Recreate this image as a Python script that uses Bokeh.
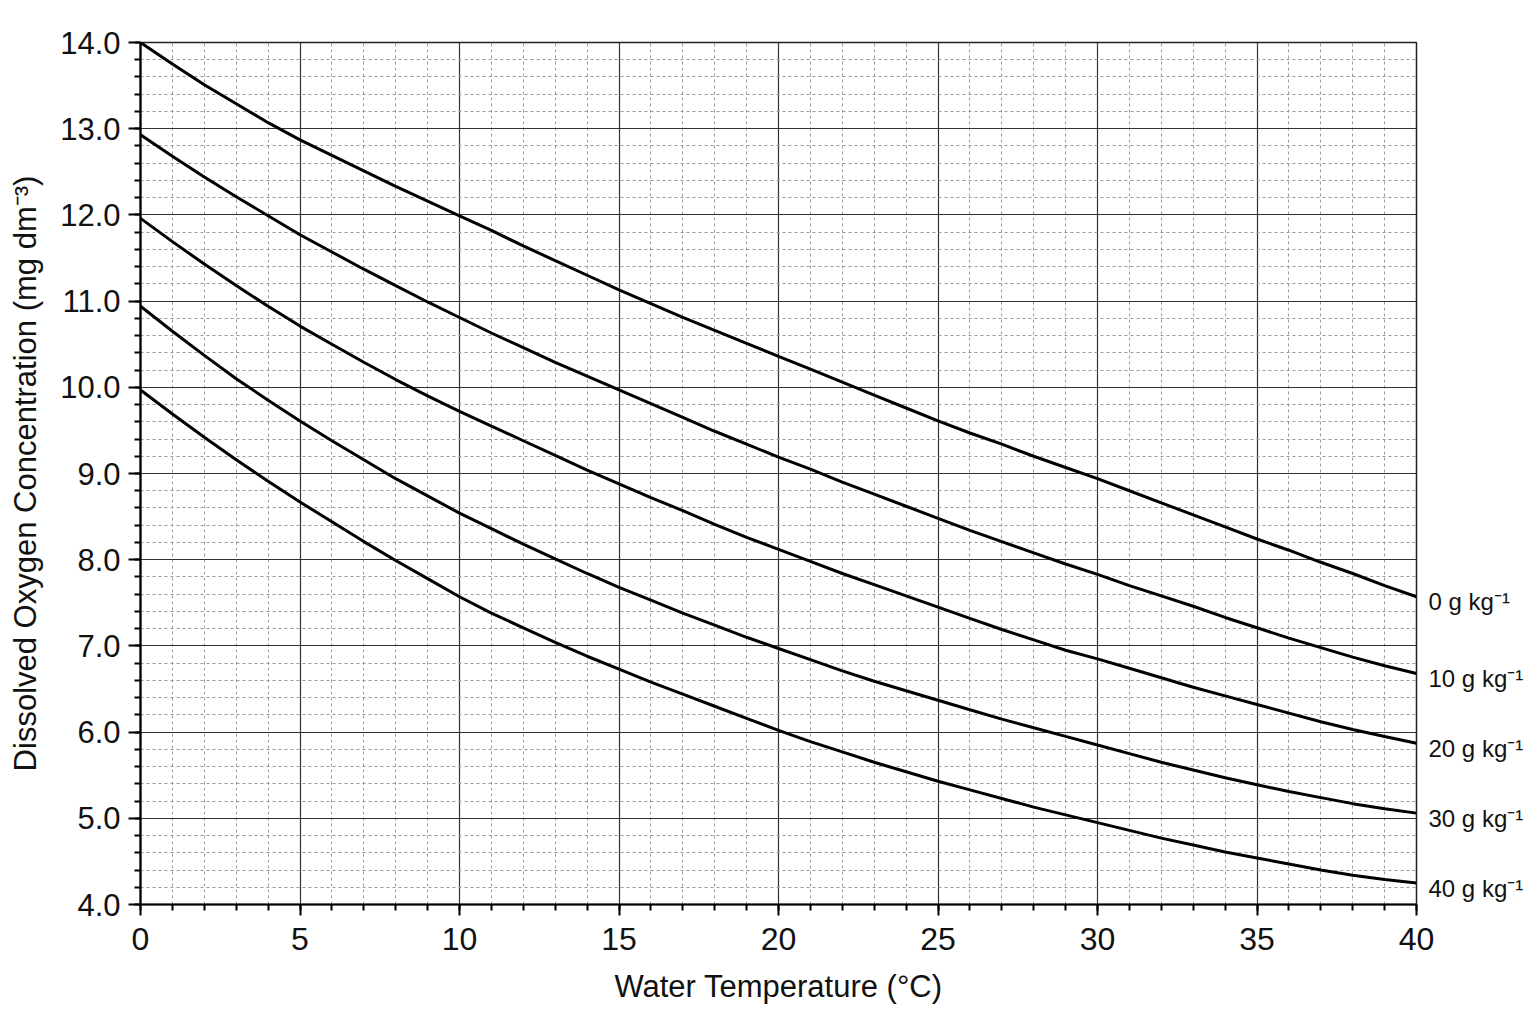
from bokeh.plotting import figure
from bokeh.models import Range1d, SingleIntervalTicker, NumeralTickFormatter, FixedTicker, LinearAxis
from bokeh.embed import file_html
from bokeh.resources import INLINE

temperature = list(range(0, 41))

salinity_labels = ["0 g kg⁻¹", "10 g kg⁻¹", "20 g kg⁻¹", "30 g kg⁻¹", "40 g kg⁻¹"]

do_0 = [14.00, 13.75, 13.51, 13.29, 13.07, 12.87, 12.69, 12.51, 12.33, 12.16,
        11.99, 11.82, 11.64, 11.47, 11.30, 11.13, 10.97, 10.81, 10.66, 10.51,
        10.36, 10.21, 10.06, 9.91, 9.76, 9.61, 9.47, 9.34, 9.20, 9.07,
        8.94, 8.80, 8.66, 8.52, 8.38, 8.24, 8.11, 7.97, 7.84, 7.70, 7.57]
do_10 = [12.93, 12.68, 12.44, 12.21, 11.99, 11.77, 11.57, 11.37, 11.18, 10.99,
         10.81, 10.63, 10.46, 10.29, 10.13, 9.97, 9.81, 9.65, 9.49, 9.34,
         9.19, 9.05, 8.90, 8.76, 8.62, 8.48, 8.34, 8.21, 8.08, 7.95,
         7.83, 7.70, 7.58, 7.46, 7.33, 7.21, 7.09, 6.98, 6.87, 6.77, 6.68]
do_20 = [11.96, 11.69, 11.43, 11.18, 10.94, 10.71, 10.50, 10.29, 10.09, 9.90,
         9.72, 9.55, 9.38, 9.21, 9.04, 8.88, 8.72, 8.57, 8.41, 8.26,
         8.12, 7.98, 7.84, 7.71, 7.58, 7.45, 7.32, 7.19, 7.07, 6.95,
         6.85, 6.74, 6.63, 6.52, 6.42, 6.32, 6.22, 6.12, 6.03, 5.95, 5.87]
do_30 = [10.94, 10.65, 10.37, 10.10, 9.85, 9.61, 9.38, 9.16, 8.94, 8.74,
         8.54, 8.36, 8.18, 8.01, 7.84, 7.68, 7.53, 7.38, 7.24, 7.10,
         6.97, 6.84, 6.71, 6.59, 6.48, 6.37, 6.26, 6.15, 6.05, 5.95,
         5.85, 5.75, 5.65, 5.56, 5.47, 5.39, 5.31, 5.24, 5.17, 5.11, 5.06]
do_40 = [9.97, 9.69, 9.42, 9.16, 8.91, 8.67, 8.44, 8.21, 7.99, 7.78,
         7.57, 7.38, 7.21, 7.04, 6.88, 6.73, 6.58, 6.44, 6.30, 6.16,
         6.02, 5.89, 5.77, 5.65, 5.54, 5.43, 5.33, 5.23, 5.13, 5.04,
         4.95, 4.86, 4.77, 4.69, 4.61, 4.54, 4.47, 4.40, 4.34, 4.29, 4.25]

series = [do_0, do_10, do_20, do_30, do_40]

FONT = "Liberation Sans"

p = figure(
    frame_width=1276, frame_height=862,
    x_range=Range1d(0, 40), y_range=Range1d(4, 14),
    output_backend="svg", toolbar_location=None,
    min_border_left=140, min_border_right=112,
    min_border_top=42, min_border_bottom=112,
    background_fill_color="white", border_fill_color="white",
)
p.outline_line_color = "#222222"
p.outline_line_width = 1.5

xt = SingleIntervalTicker(interval=5, num_minor_ticks=5)
yt = SingleIntervalTicker(interval=1, num_minor_ticks=5)
p.xaxis.ticker = xt
p.yaxis.ticker = yt
p.xgrid.ticker = xt
p.ygrid.ticker = yt

for g in (p.xgrid, p.ygrid):
    g.grid_line_color = "#333333"
    g.grid_line_width = 1.2
    g.minor_grid_line_color = "#9a9a9a"
    g.minor_grid_line_width = 1
    g.minor_grid_line_dash = "3 3"

p.yaxis.formatter = NumeralTickFormatter(format="0.0")

for ax in (p.xaxis[0], p.yaxis[0]):
    ax.axis_line_color = "black"
    ax.axis_line_width = 2.2
    ax.major_tick_line_color = "black"
    ax.major_tick_line_width = 2
    ax.minor_tick_line_color = "black"
    ax.minor_tick_line_width = 2
    ax.major_tick_in = 0
    ax.minor_tick_in = 0
    ax.minor_tick_out = 6
    ax.major_label_text_font = FONT
    ax.major_label_text_color = "#111111"
    ax.axis_label_text_font = FONT
    ax.axis_label_text_font_style = "normal"
    ax.axis_label_text_color = "#111111"

p.xaxis.major_tick_out = 11
p.yaxis.major_tick_out = 12
p.xaxis.major_label_text_font_size = "32px"
p.yaxis.major_label_text_font_size = "31px"
p.xaxis.major_label_standoff = 12
p.yaxis.major_label_standoff = 8
p.xaxis.axis_label = "Water Temperature (°C)"
p.yaxis.axis_label = "Dissolved Oxygen Concentration (mg dm⁻³)"
p.xaxis.axis_label_text_font_size = "31px"
p.yaxis.axis_label_text_font_size = "31px"
p.xaxis.axis_label_standoff = 16
p.yaxis.axis_label_standoff = 14

for vals in series:
    p.line(temperature, vals, line_color="black", line_width=3)

# end-of-curve labels as a right-hand axis placed at each curve's last value
end_values = [vals[-1] for vals in series]
p.extra_y_ranges = {"labels": Range1d(4 + 0.06, 14 + 0.06)}
lab_axis = LinearAxis(
    y_range_name="labels",
    ticker=FixedTicker(ticks=end_values, minor_ticks=[]),
    major_label_overrides={v: lab for v, lab in zip(end_values, salinity_labels)},
)
lab_axis.axis_line_color = None
lab_axis.major_tick_line_color = None
lab_axis.minor_tick_line_color = None
lab_axis.major_tick_out = 0
lab_axis.major_tick_in = 0
lab_axis.major_label_standoff = 12
lab_axis.major_label_text_font = FONT
lab_axis.major_label_text_font_size = "24px"
lab_axis.major_label_text_color = "#111111"
p.add_layout(lab_axis, "right")

open("out.html", "w").write(file_html(p, INLINE))
